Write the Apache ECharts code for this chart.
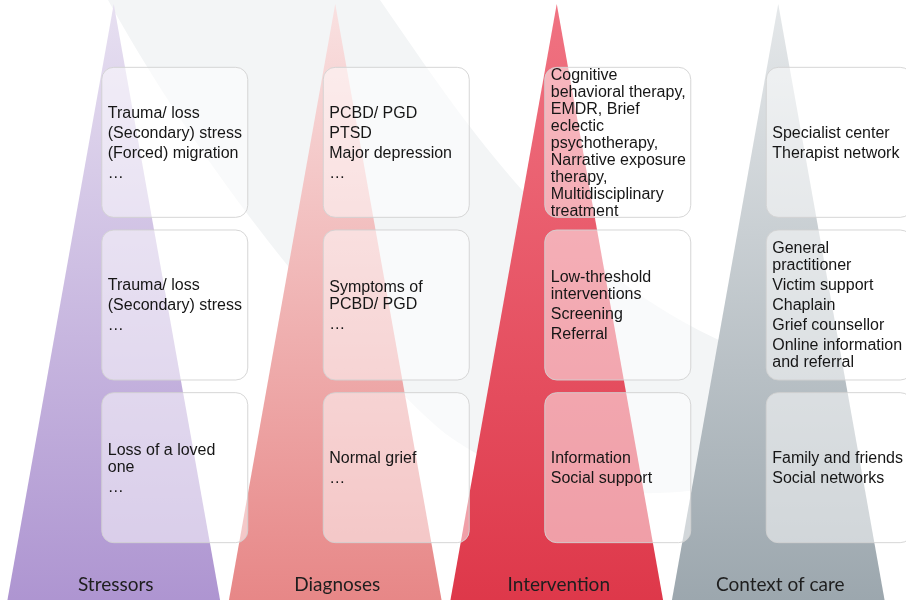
<!DOCTYPE html>
<html>
<head>
<meta charset="utf-8">
<script src="https://cdn.jsdelivr.net/npm/echarts@6/dist/echarts.min.js"></script>
<style>
	html, body { margin: 0; padding: 0; background: #fff; }
	#main { width: 906px; height: 600px; }
</style>
</head>
<body>
<div id="main"></div>
<script>
// 四个阶段（x 轴类目）
var stages = ['Stressors', 'Diagnoses', 'Intervention', 'Context of care'];
// 三层（y 轴类目，从上到下）
var tiers = ['specialist', 'intermediate', 'basic'];

// 每个方框的文字：段落 -> 折行
var stressorBoxes = [
	[['Trauma/ loss'], ['(Secondary) stress'], ['(Forced) migration'], ['…']],
	[['Trauma/ loss'], ['(Secondary) stress'], ['…']],
	[['Loss of a loved', 'one'], ['…']]
];
var diagnosisBoxes = [
	[['PCBD/ PGD'], ['PTSD'], ['Major depression'], ['…']],
	[['Symptoms of', 'PCBD/ PGD'], ['…']],
	[['Normal grief'], ['…']]
];
var interventionBoxes = [
	[['Cognitive', 'behavioral therapy,', 'EMDR, Brief', 'eclectic', 'psychotherapy,', 'Narrative exposure', 'therapy,', 'Multidisciplinary', 'treatment']],
	[['Low-threshold', 'interventions'], ['Screening'], ['Referral']],
	[['Information'], ['Social support']]
];
var careBoxes = [
	[['Specialist center'], ['Therapist network']],
	[['General', 'practitioner'], ['Victim support'], ['Chaplain'], ['Grief counsellor'], ['Online information', 'and referral']],
	[['Family and friends'], ['Social networks']]
];
var boxTexts = [stressorBoxes, diagnosisBoxes, interventionBoxes, careBoxes];

(function() {
	var myChart = echarts.init(document.getElementById('main'));

	// 三角形渐变色（上浅下深）
	var triColors = [
		['#e7e0f1', '#ae95d1'],
		['#f9e1e1', '#e78787'],
		['#f07382', '#de384a'],
		['#e5e8ea', '#9ca7ae']
	];

	var triData = stages.map(function(s, i) { return [i, 1]; });
	var boxData = [];
	boxTexts.forEach(function(col, i) {
		col.forEach(function(box, j) {
			boxData.push([i, j]);
		});
	});

	var option = {
		animation: false,
		grid: {
			left: 3,
			right: 17,
			top: 61,
			bottom: 51
		},
		xAxis: {
			type: 'category',
			data: stages,
			show: false
		},
		yAxis: {
			type: 'category',
			data: tiers,
			inverse: true,
			show: false
		},
		series: [{
				// 背景的浅灰色弧形
				type: 'custom',
				silent: true,
				clip: false,
				z: 1,
				data: [[0, 0]],
				renderItem: function(params, api) {
					return {
						type: 'path',
						shape: {
							pathData: 'M108,0 L380,0 C470,130 560,270 730,345 C780,368 810,410 820,450 C700,520 520,500 435,425 C300,300 180,130 108,0 Z'
						},
						style: {
							fill: '#f3f5f6'
						}
					};
				}
			},
			{
				// 三角形 + 底部标题
				type: 'custom',
				silent: true,
				clip: false,
				z: 2,
				data: triData,
				renderItem: function(params, api) {
					var i = api.value(0);
					var c = api.coord([i, 1]);
					var half = api.size([1, 1])[0] * 0.48;
					return {
						type: 'group',
						children: [{
							type: 'polygon',
							shape: {
								points: [[c[0], 4], [c[0] - half, 600], [c[0] + half, 600]]
							},
							style: {
								fill: new echarts.graphic.LinearGradient(0, 0, 0, 1, [
									{ offset: 0, color: triColors[i][0] },
									{ offset: 1, color: triColors[i][1] }
								])
							}
						}, {
							type: 'text',
							z2: 10,
							style: {
								text: stages[i],
								x: c[0] + 2,
								y: 585,
								align: 'center',
								verticalAlign: 'middle',
								fontSize: 19,
								fontFamily: 'Lato',
								fill: '#1e1e1e'
							}
						}]
					};
				}
			},
			{
				// 半透明圆角方框 + 文字
				type: 'custom',
				silent: true,
				clip: false,
				z: 3,
				data: boxData,
				renderItem: function(params, api) {
					var i = api.value(0);
					var j = api.value(1);
					var c = api.coord([i, j]);
					var paras = boxTexts[i][j];
					var lines = [];
					var pos = 0;
					paras.forEach(function(p) {
						p.forEach(function(t, li) {
							if (lines.length) pos += (li === 0 ? 20 : 17);
							lines.push({ t: t, y: pos });
						});
					});
					var y0 = c[1] - pos / 2 + 1;
					var children = [{
						type: 'rect',
						shape: { x: c[0] - 12, y: c[1] - 75, width: 146, height: 150, r: 12 },
						style: {
							fill: 'rgba(255,255,255,0.5)',
							stroke: 'rgba(210,210,210,0.9)',
							lineWidth: 1
						}
					}];
					lines.forEach(function(l) {
						children.push({
							type: 'text',
							style: {
								text: l.t,
								x: c[0] - 6,
								y: y0 + l.y,
								align: 'left',
								verticalAlign: 'middle',
								fontSize: 16,
								fontFamily: 'Liberation Sans',
								fill: '#161616'
							}
						});
					});
					return { type: 'group', children: children };
				}
			}
		]
	};
	myChart.setOption(option);
	window.addEventListener('resize', function() {
		myChart.resize();
	});
})();
</script>
</body>
</html>
